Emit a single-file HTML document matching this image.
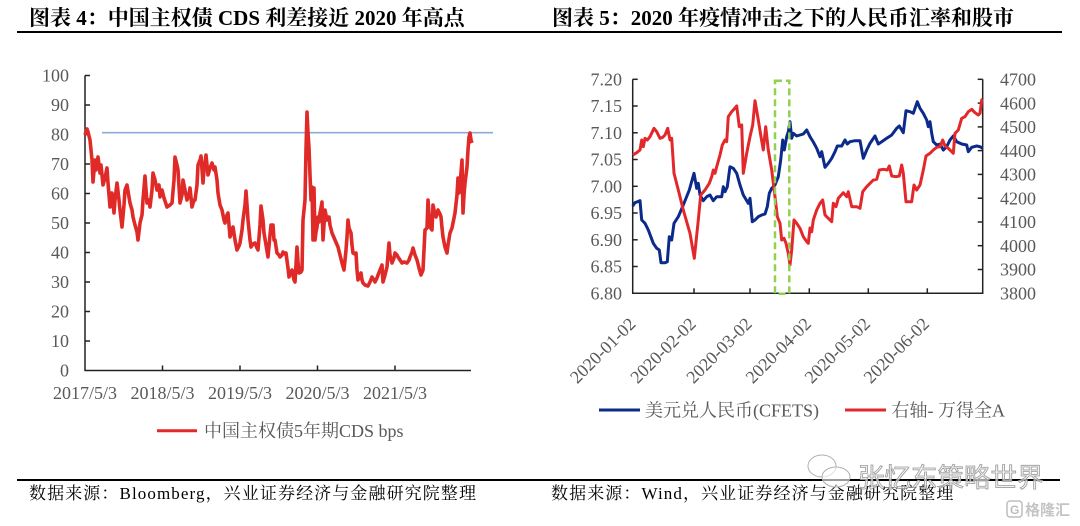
<!DOCTYPE html>
<html>
<head>
<meta charset="utf-8">
<style>
html,body{margin:0;padding:0;background:#fff;}
svg{display:block;}
.t{font-family:"Liberation Serif","Noto Serif CJK SC",serif;}
</style>
</head>
<body>
<svg width="1080" height="526" viewBox="0 0 1080 526" xmlns="http://www.w3.org/2000/svg">
<rect width="1080" height="526" fill="#fff"/>

<!-- Titles -->
<text class="t" x="29" y="25" font-size="21" font-weight="bold" fill="#000">图表 4：中国主权债 CDS 利差接近 2020 年高点</text>
<text class="t" x="552" y="25" font-size="21" font-weight="bold" fill="#000">图表 5：2020 年疫情冲击之下的人民币汇率和股市</text>
<line x1="17" y1="32" x2="1062" y2="32" stroke="#000" stroke-width="2"/>

<!-- ============ LEFT CHART ============ -->
<g class="t" font-size="18" fill="#595959" text-anchor="end">
<text x="69" y="81.5">100</text>
<text x="69" y="111">90</text>
<text x="69" y="140.5">80</text>
<text x="69" y="170">70</text>
<text x="69" y="199.5">60</text>
<text x="69" y="229">50</text>
<text x="69" y="258.5">40</text>
<text x="69" y="288">30</text>
<text x="69" y="317.5">20</text>
<text x="69" y="347">10</text>
<text x="69" y="376.5">0</text>
</g>
<g class="t" font-size="18" fill="#595959" text-anchor="middle">
<text x="85" y="399">2017/5/3</text>
<text x="162.5" y="399">2018/5/3</text>
<text x="240" y="399">2019/5/3</text>
<text x="317.5" y="399">2020/5/3</text>
<text x="395" y="399">2021/5/3</text>
</g>
<g stroke="#222" stroke-width="1.5">
<line x1="85" y1="75.5" x2="85" y2="371"/>
<line x1="84.5" y1="370.5" x2="471" y2="370.5"/>
<line x1="85" y1="75.5" x2="90" y2="75.5"/>
<line x1="85" y1="105" x2="90" y2="105"/>
<line x1="85" y1="134.5" x2="90" y2="134.5"/>
<line x1="85" y1="164" x2="90" y2="164"/>
<line x1="85" y1="193.5" x2="90" y2="193.5"/>
<line x1="85" y1="223" x2="90" y2="223"/>
<line x1="85" y1="252.5" x2="90" y2="252.5"/>
<line x1="85" y1="282" x2="90" y2="282"/>
<line x1="85" y1="311.5" x2="90" y2="311.5"/>
<line x1="85" y1="341" x2="90" y2="341"/>
<line x1="162.5" y1="370.5" x2="162.5" y2="365.5"/>
<line x1="240" y1="370.5" x2="240" y2="365.5"/>
<line x1="317.5" y1="370.5" x2="317.5" y2="365.5"/>
<line x1="395" y1="370.5" x2="395" y2="365.5"/>
</g>
<line x1="102" y1="132.7" x2="493" y2="132.7" stroke="#8eaadb" stroke-width="1.6"/>
<polyline fill="none" stroke="#e02a27" stroke-width="3.6" stroke-linejoin="round" points="
85,135 87,129 88,132 90,140 92,160 93,182 95,160 96,170 98,157 100,173 101,165 103,185 105,178 107,168 108,183 110,207 112,193 114,213 115,200 117,183 119,200 120,210 122,227 124,205 125,190 127,185 129,197 130,203 132,210 133,217 135,225 137,232 138,240 140,223 142,215 143,200 145,176 147,203 149,200 150,207 152,190 153,173 155,180 157,190 159,185 160,197 162,190 164,198 167,207 170,205 172,203 174,180 175,157 177,165 178,170 180,203 182,195 183,180 185,190 187,200 189,195 190,188 192,207 194,200 195,200 197,185 198,165 200,160 201,156 203,183 204,170 206,155 208,175 210,168 212,163 214,170 215,167 217,180 218,193 220,205 222,210 224,220 225,223 227,215 228,213 230,237 232,230 233,227 235,240 237,250 239,246 240,243 242,230 243,220 245,205 246,191 247,205 248,220 250,240 251,247 253,244 255,243 257,248 258,250 260,225 261,206 263,220 264,233 266,245 268,257 270,235 271,225 273,225 274,240 275,240 277,253 279,255 280,257 282,255 283,252 285,254 286,253 288,268 289,277 291,272 292,270 294,280 295,282 296,265 297,247 298,262 299,273 301,272 302,270 303,220 304,210 305,200 306,150 307,112 308,133 309,148 310,175 311,200 312,187 313,240 314,188 315,240 316,232 317,227 318,217 319,222 320,213 321,208 322,202 323,240 324,225 325,210 326,215 327,220 329,217 330,225 332,233 335,240 338,247 340,255 342,263 344,270 346,250 347,237 348,220 349,228 351,233 352,245 353,253 355,254 356,253 357,270 358,280 360,275 361,273 362,280 363,283 365,285 368,286 370,282 372,277 374,280 375,282 377,278 378,275 380,270 382,265 383,282 385,275 387,267 388,255 389,243 390,255 392,263 394,258 395,253 397,255 398,257 400,260 402,263 404,262 407,263 409,260 410,257 412,252 413,248 415,255 417,260 419,268 421,275 423,270 424,250 425,230 427,228 428,200 429,215 430,227 432,230 433,205 435,215 436,217 438,210 440,214 441,217 442,228 443,237 445,247 447,253 448,245 450,233 452,228 453,223 454,218 455,213 457,195 458,178 459,193 460,185 462,160 463,213 464,195 465,183 466,175 467,167 468,150 469,137 470,133 471,140 472,143"/>

<!-- left legend -->
<line x1="157" y1="430.7" x2="197" y2="430.7" stroke="#e02a27" stroke-width="3"/>
<text class="t" x="204" y="437" font-size="18" fill="#595959">中国主权债5年期CDS bps</text>

<!-- ============ RIGHT CHART ============ -->
<g class="t" font-size="18" fill="#595959" text-anchor="end">
<text x="622" y="85.5">7.20</text>
<text x="622" y="112.2">7.15</text>
<text x="622" y="139">7.10</text>
<text x="622" y="165.7">7.05</text>
<text x="622" y="192.5">7.00</text>
<text x="622" y="219.2">6.95</text>
<text x="622" y="246">6.90</text>
<text x="622" y="272.7">6.85</text>
<text x="622" y="299.5">6.80</text>
</g>
<g class="t" font-size="18" fill="#595959" text-anchor="start">
<text x="1000" y="85.5">4700</text>
<text x="1000" y="109.3">4600</text>
<text x="1000" y="133.1">4500</text>
<text x="1000" y="156.9">4400</text>
<text x="1000" y="180.6">4300</text>
<text x="1000" y="204.4">4200</text>
<text x="1000" y="228.2">4100</text>
<text x="1000" y="252">4000</text>
<text x="1000" y="275.7">3900</text>
<text x="1000" y="299.5">3800</text>
</g>
<g class="t" font-size="18" fill="#595959" text-anchor="end">
<text x="636.7" y="325" transform="rotate(-45 636.7 325)">2020-01-02</text>
<text x="697" y="325" transform="rotate(-45 697 325)">2020-02-02</text>
<text x="753" y="325" transform="rotate(-45 753 325)">2020-03-02</text>
<text x="812.3" y="325" transform="rotate(-45 812.3 325)">2020-04-02</text>
<text x="871.3" y="325" transform="rotate(-45 871.3 325)">2020-05-02</text>
<text x="930.3" y="325" transform="rotate(-45 930.3 325)">2020-06-02</text>
</g>
<g stroke="#222" stroke-width="1.5">
<line x1="632.7" y1="79.3" x2="632.7" y2="294"/>
<line x1="982.7" y1="79.3" x2="982.7" y2="294"/>
<line x1="632" y1="293.3" x2="983.4" y2="293.3"/>
<line x1="632.7" y1="79.3" x2="637.7" y2="79.3"/>
<line x1="632.7" y1="106" x2="637.7" y2="106"/>
<line x1="632.7" y1="132.8" x2="637.7" y2="132.8"/>
<line x1="632.7" y1="159.5" x2="637.7" y2="159.5"/>
<line x1="632.7" y1="186.3" x2="637.7" y2="186.3"/>
<line x1="632.7" y1="213" x2="637.7" y2="213"/>
<line x1="632.7" y1="239.8" x2="637.7" y2="239.8"/>
<line x1="632.7" y1="266.5" x2="637.7" y2="266.5"/>
<line x1="982.7" y1="79.3" x2="977.7" y2="79.3"/>
<line x1="982.7" y1="103.1" x2="977.7" y2="103.1"/>
<line x1="982.7" y1="126.9" x2="977.7" y2="126.9"/>
<line x1="982.7" y1="150.6" x2="977.7" y2="150.6"/>
<line x1="982.7" y1="174.4" x2="977.7" y2="174.4"/>
<line x1="982.7" y1="198.2" x2="977.7" y2="198.2"/>
<line x1="982.7" y1="222" x2="977.7" y2="222"/>
<line x1="982.7" y1="245.7" x2="977.7" y2="245.7"/>
<line x1="982.7" y1="269.5" x2="977.7" y2="269.5"/>
<line x1="694" y1="293.3" x2="694" y2="288.3"/>
<line x1="750" y1="293.3" x2="750" y2="288.3"/>
<line x1="809.3" y1="293.3" x2="809.3" y2="288.3"/>
<line x1="868.3" y1="293.3" x2="868.3" y2="288.3"/>
<line x1="927.3" y1="293.3" x2="927.3" y2="288.3"/>
</g>

<!-- blue USD/CNY -->
<polyline fill="none" stroke="#0b2a8a" stroke-width="3" stroke-linejoin="round" points="
632.7,206 635,202.7 640,200.7 641.7,220 645,223.3 648.3,230 653.3,243.3 656.7,248.3 659.3,250 661,262.7 665,262.7 667.3,261.7 669.3,236.7 671.7,240 674,223.3 678.3,216.7 683.3,205 689.3,190 694,173.3 696.7,188.3 698.3,183.3 700,195 703.3,200.7 706.7,196.7 710,195 713.3,200.7 716.7,196.7 721.7,196.7 723.3,186.7 725,191.7 727.3,186.7 730,166.7 733.3,168.3 736.7,173.3 740,185 743.3,195 748.3,203.3 750,198.3 752.3,221.7 755,220 758.3,216.7 761.7,215 765,214 767.3,206.7 769.3,193.3 771.7,188.3 775,185 778.3,176.7 780.7,160 782.7,140 784.3,150 786.7,136.7 788.3,131.7 790,121.7 791.7,138.3 793.3,133.3 796.7,136 800,135 803.3,134 806.7,130 810,136.7 813.3,142 816.7,148.3 820,156.7 821.7,151.7 825,167.3 828.3,163.3 831.7,158.3 835,151.7 837.3,146 841.7,146 845,140 847.3,144 850,141.7 855,140.7 860,140.7 863.3,158.3 866.7,150 870,143.3 875,136 878.3,144 881.7,141.7 886.7,138.3 891.7,135 896.7,128.3 899.3,126 903.3,132.7 906,110.7 910,111.7 913.3,113.3 917.3,101.7 920,108.3 923.3,113.3 926.7,120 928.3,126.7 930,121.7 931.7,133.3 933.3,141.7 936.7,145 940,144 943.3,150 946.7,146.7 950,140 953.3,136 956.7,141.7 961.7,144 966.7,145 968.3,151.7 971.7,147.3 976.7,146 980,146.7 982.7,148.3"/>

<!-- red Wind A -->
<polyline fill="none" stroke="#e3282b" stroke-width="3" stroke-linejoin="round" points="
632.7,155 636.7,152.7 640,150 641.7,140 643.3,146.7 645,138.3 647.3,140 650,136.7 654,128.3 656.7,131.7 660,138.3 662.7,137.3 665,135 667.7,128.3 670,140 671.7,138.3 674,173.3 678.3,190 683.3,210 690,233.3 694.3,258.3 698.3,220 700.7,195 705,190 709.3,183.3 711.7,176.7 713.3,170 715,173.3 716.7,166.7 720,155 722.3,145 725,140 726.7,141.7 728.3,116.7 731.7,111.7 736.7,106 739.3,126.7 741.7,125 743.3,173.3 746.7,153.3 750,136.7 752.7,125 755,100.7 758.3,120 761,136.7 763.3,150 765.7,126.7 768.3,150 771.7,170 775,196.7 777.3,216.7 780,223.3 781.7,240 784,238.3 786,243.3 788.3,253.3 790,265 791.7,250 794,220 796.7,223.3 800,228.3 803.3,236.7 806.7,241.7 808.3,243.3 810,228 811.7,231.7 813.3,220 816.7,210 820,203.3 822.7,200 825,215 828.3,218.3 831.7,221.7 833.3,203.3 836,206.7 838.3,198.3 843.3,192.7 846.7,196.7 848.3,191.7 851.7,206.7 856.7,206.7 860,208.3 862.7,191.7 866.7,186.7 870,183.3 873.3,180 876.7,179.3 879.3,170 883.3,169.3 887.3,170 889.3,166 891.7,176 896,176.7 899.3,176 901.7,165 903.3,173.3 906,201.7 911.7,201.7 914,185 916.7,190 920,185 923.3,170 926,156 930,153.3 933.3,150 936.7,147.3 940,146.7 942.7,140 945,146 948.3,148.3 951.7,151.7 953.3,153.3 955,133.3 958.3,130 961.7,118.3 965,116.7 968.3,111.7 971.7,109.3 975,112.7 978.3,115 980,113.3 981.7,100 982.7,99.3"/>

<!-- green dashed box -->
<rect x="775" y="80.7" width="14.3" height="213" fill="none" stroke="#92d050" stroke-width="2.5" stroke-dasharray="7 4"/>

<!-- right legend -->
<line x1="599" y1="410" x2="640" y2="410" stroke="#0b2a8a" stroke-width="3"/>
<text class="t" x="645" y="416.5" font-size="18" fill="#595959">美元兑人民币(CFETS)</text>
<line x1="845" y1="410" x2="886" y2="410" stroke="#e3282b" stroke-width="3"/>
<text class="t" x="891.5" y="416.5" font-size="18" fill="#595959">右轴- 万得全A</text>

<!-- bottom -->
<line x1="17" y1="480" x2="1060" y2="480" stroke="#000" stroke-width="2"/>
<text class="t" x="29" y="499" font-size="17" letter-spacing="1.1" fill="#000">数据来源：Bloomberg，兴业证券经济与金融研究院整理</text>
<text class="t" x="551" y="499" font-size="17" letter-spacing="1.1" fill="#000">数据来源：Wind，兴业证券经济与金融研究院整理</text>

<!-- watermark -->
<g fill="#fff" fill-opacity="0.6" stroke="#b0b0b0" stroke-width="1">
<ellipse cx="822" cy="466" rx="14" ry="11"/>
<ellipse cx="836" cy="477" rx="14" ry="10"/>
</g>
<text x="858" y="487" font-family="'Liberation Sans','Noto Sans CJK SC',sans-serif" font-size="26.5" fill="#eeeeee" fill-opacity="0.7" stroke="#9a9a9a" stroke-width="0.8">张忆东策略世界</text>
<rect x="1007" y="501" width="15" height="16" rx="3" fill="none" stroke="#bdbdbd" stroke-width="1.5"/>
<text x="1010" y="514" font-family="'Liberation Sans',sans-serif" font-size="12" font-weight="bold" fill="#bdbdbd">G</text>
<text x="1025" y="515" font-family="'Liberation Sans','Noto Sans CJK SC',sans-serif" font-size="15" font-weight="bold" fill="#c4c4c4">格隆汇</text>
</svg>
</body>
</html>
